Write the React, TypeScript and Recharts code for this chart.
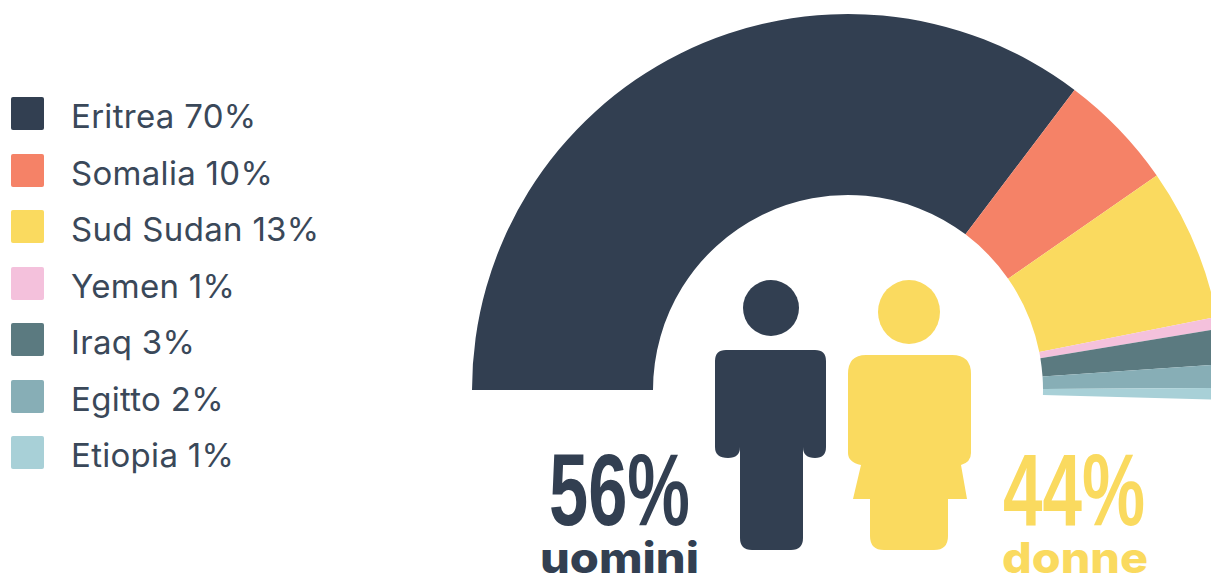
import { Legend, Pie, PieChart } from "recharts";

const countries = ["Eritrea", "Somalia", "Sud Sudan", "Yemen", "Iraq", "Egitto", "Etiopia"];
const shares = [70, 10, 13, 1, 3, 2, 1];
const colors = ["#323f51", "#f58267", "#fada5f", "#f4c1dc", "#5b7a80", "#87aeb6", "#a8d0d7"];

const DARK = "#323f51";
const YELLOW = "#fada5f";
const LEGEND_WIDTH = 340;
const LEGEND_FONT = "Inter, 'Noto Sans', sans-serif";
const NARROW_FONT = "'Liberation Sans Narrow', 'Liberation Sans', sans-serif";
const LABEL_FONT = "Inter, 'Noto Sans', sans-serif";

const rows = countries.map((name, i) => ({ name, value: shares[i], fill: colors[i] }));

function CountryLegend({ payload }: any) {
  return (
    <div style={{ fontFamily: LEGEND_FONT }}>
      {(payload ?? []).map((entry: any) => (
        <div key={entry.value} style={{ height: 56.5, display: "flex", alignItems: "flex-start" }}>
          <div
            style={{
              width: 33,
              height: 33,
              marginLeft: 11,
              borderRadius: 2,
              background: entry.color,
            }}
          />
          <div
            style={{
              marginLeft: 27,
              fontSize: 33,
              lineHeight: "38px",
              letterSpacing: 0.3,
              color: "#3a4859",
              whiteSpace: "nowrap",
              marginTop: 0,
            }}
          >
            {entry.value} {entry.payload.value}%
          </div>
        </div>
      ))}
    </div>
  );
}

// man and woman pictograms with the gender split beside them
function Figures() {
  return (
    <svg
      width={1211}
      height={577}
      style={{ position: "absolute", left: 0, top: 0, pointerEvents: "none" }}
    >
      <circle cx={771} cy={308} r={28} fill={DARK} />
      <path
        fill={DARK}
        d="M726 350H815Q826 350 826 361V447Q826 458 815 458Q803 458 803 447V538Q803 550 791 550H752Q740 550 740 538V447Q740 458 728 458Q715 458 715 447V361Q715 350 726 350Z"
      />
      <ellipse cx={909} cy={312} rx={31} ry={32} fill={YELLOW} />
      <path
        fill={YELLOW}
        d="M866 355H952Q971 355 971 374V453Q971 462 961 465L967 499H948V536Q948 550 934 550H884Q870 550 870 536V499H853L861 465Q848 462 848 453V374Q848 355 866 355Z"
      />
      <text
        x={549}
        y={525}
        textLength={141}
        lengthAdjust="spacingAndGlyphs"
        fontFamily={NARROW_FONT}
        fontWeight={700}
        fontSize={102}
        fill={DARK}
      >
        56%
      </text>
      <text
        x={1003}
        y={525}
        textLength={142}
        lengthAdjust="spacingAndGlyphs"
        fontFamily={NARROW_FONT}
        fontWeight={700}
        fontSize={102}
        fill={YELLOW}
      >
        44%
      </text>
      <text
        x={540}
        y={573}
        textLength={159}
        lengthAdjust="spacingAndGlyphs"
        fontFamily={LABEL_FONT}
        fontWeight={800}
        fontSize={42}
        fill={DARK}
      >
        uomini
      </text>
      <text
        x={1002}
        y={573}
        textLength={146}
        lengthAdjust="spacingAndGlyphs"
        fontFamily={LABEL_FONT}
        fontWeight={800}
        fontSize={42}
        fill={YELLOW}
      >
        donne
      </text>
    </svg>
  );
}

export default function App() {
  return (
    <div
      style={{
        position: "absolute",
        left: 0,
        top: 0,
        width: 1211,
        height: 577,
        overflow: "hidden",
        background: "#fff",
      }}
    >
      <PieChart width={1211} height={577} margin={{ top: 0, right: 0, bottom: 0, left: 0 }}>
        <Pie
          data={rows}
          dataKey="value"
          nameKey="name"
          cx={848 - LEGEND_WIDTH}
          cy={390}
          innerRadius={195}
          outerRadius={376}
          startAngle={180}
          endAngle={-1.5}
          stroke="none"
          isAnimationActive={false}
        />
        <Legend
          layout="vertical"
          align="left"
          verticalAlign="top"
          itemSorter={null}
          wrapperStyle={{ left: 0, top: 97, width: LEGEND_WIDTH }}
          content={(props: any) => <CountryLegend payload={props.payload} />}
        />
      </PieChart>
      <Figures />
    </div>
  );
}
